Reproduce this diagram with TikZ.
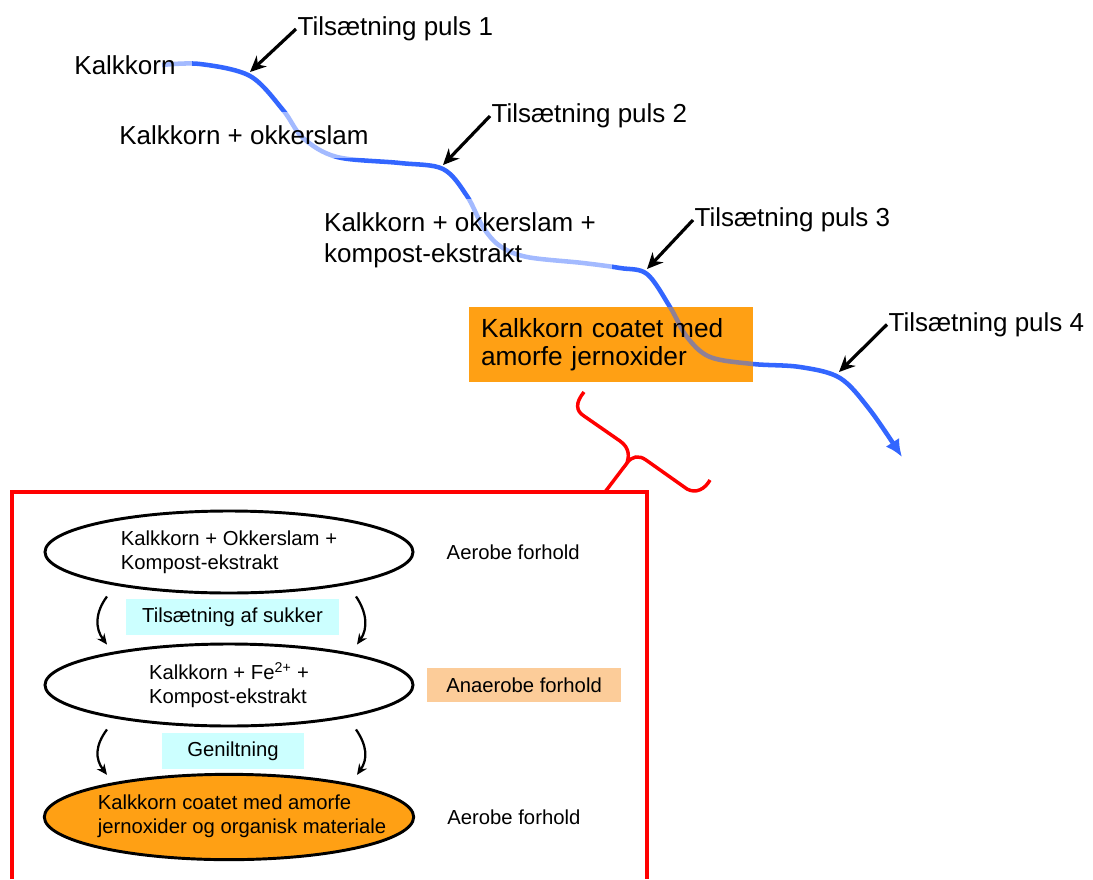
\documentclass[tikz,border=0pt]{standalone}
\usepackage{fontspec}
\setmainfont{Liberation Sans}
\usepackage{tikz}
\usetikzlibrary{arrows.meta, shapes.geometric, positioning, backgrounds, calc}
\definecolor{flowblue}{RGB}{51, 102, 255}
\definecolor{coatorange}{RGB}{255, 160, 20}
\definecolor{sugarcyan}{RGB}{204, 255, 255}
\definecolor{anaeropeach}{RGB}{252, 204, 153}
\definecolor{framered}{RGB}{255, 0, 0}

\begin{document}
\begin{tikzpicture}[x=0.75pt, y=-0.75pt,
    flow/.style={line width=3.4pt, flowblue, -{Latex[length=13pt, width=12pt]}},
    stage/.style={font=\fontsize{19.5}{23.3}\selectfont, align=left, fill=white, fill opacity=0.55, text opacity=1, inner xsep=12pt, inner ysep=10pt},
    puls/.style={font=\fontsize{19.5}{23.3}\selectfont, inner sep=1pt, anchor=west},
    pulsarrow/.style={line width=2.4pt, -{Stealth[length=12pt, width=11pt]}},
    coatbox/.style={font=\fontsize{19.7}{21}\selectfont, align=left, fill=coatorange, fill opacity=0.45, text opacity=1, text width=195pt, inner xsep=9pt, minimum height=56pt},
    state/.style={ellipse, draw, line width=2.2pt, minimum width=276pt, minimum height=61.5pt, inner sep=0pt, align=left, font=\fontsize{15.2}{18}\selectfont},
    tag/.style={font=\fontsize{15.2}{18}\selectfont, inner sep=0pt},
    action/.style={fill=sugarcyan, minimum height=27pt, font=\fontsize{15.2}{18}\selectfont},
    sidearrow/.style={line width=1.7pt, -{Stealth[length=8pt, width=7pt]}},
    frame/.style={framered, line width=2.6pt}
  ]
    \useasboundingbox (0,0) rectangle (1093,879);

    \coordinate (s0) at (162,65);
    \coordinate (p1) at (250,72);
    \coordinate (p2) at (443,165);
    \coordinate (p3) at (647,269);
    \coordinate (p4) at (839,372);

    \draw[flow] plot[smooth, tension=0.55] coordinates {(s0) (200,64) (250,76) (283,110) (303,138) (337,157) (400,163) (443,169) (467,196) (483,227) (500,246) (527,257) (583,263) (620,268) (647,274) (670,307) (687,337) (710,357) (753,364) (800,367) (840,378) (870,410) (902,457)};

    \node[stage] (kalk) at (125,65) {Kalkkorn};
    \node[stage] (okker) at (244,135) {Kalkkorn + okkerslam};
    \node[stage] (kompost) at (460,240) {Kalkkorn + okkerslam +\\kompost-ekstrakt};
    \node[coatbox] (coat) at (611,344.5) {Kalkkorn coatet med\\amorfe jernoxider};
    \begin{scope}[on background layer]
      \fill[coatorange] (coat.south west) rectangle (coat.north east);
    \end{scope}

    \foreach \n/\x/\y in {1/296/29, 2/490/116, 3/693/220, 4/887/324.5}{
      \node[puls] (puls\n) at (\x,\y) {Tilsætning puls \n};
      \draw[pulsarrow] (puls\n.west) -- (p\n);
    }

    \coordinate (cusp) at (627,463);
    \coordinate (frametip) at (605,492);
    \draw[frame] (12,879) |- (647,492) -- (647,879);
    \draw[frame] (584,392) .. controls (575,403) and (576,411) .. (584,416) -- (620,441)
      .. controls (630,448) and (629,457) .. (cusp)
      .. controls (632,456) and (639,455) .. (646,460) -- (687,489)
      .. controls (696,494) and (705,489) .. (710,480);
    \draw[frame] (cusp) -- (frametip);

    \node[state] (e1) at (229,552) {Kalkkorn + Okkerslam +\\Kompost-ekstrakt};
    \node[action, minimum width=160pt] (sukker) at (232.5,617) {Tilsætning af sukker};
    \node[state] (e2) at (229,685) {Kalkkorn + Fe\textsuperscript{2+} +\\Kompost-ekstrakt};
    \node[action, minimum width=106.5pt] (genilt) at (233,751) {Geniltning};
    \node[state, fill=coatorange, minimum width=277pt, minimum height=64pt] (e3) at (229,817) {};
    \node[tag, align=left] (e3text) at ($(e3)+(13,-1)$) {Kalkkorn coatet med amorfe\\jernoxider og organisk materiale};

    \node[tag, right=24pt of e1] (aerob1) {Aerobe forhold};
    \node[tag, right=9pt of e2, fill=anaeropeach, minimum width=146pt, minimum height=26pt] (anaerob) {Anaerobe forhold};
    \node[tag, right=24pt of e3] (aerob2) {Aerobe forhold};

    \foreach \up/\dn in {e1/e2, e2/e3}{
      \draw[sidearrow] ($(\up.south)+(-122,2)$) .. controls +(-12,16) and +(-12,-16) .. ($(\dn.north)+(-122,2)$);
      \draw[sidearrow] ($(\up.south)+(127,2)$) .. controls +(11,16) and +(11,-16) .. ($(\dn.north)+(128,2)$);
    }
  \end{tikzpicture}
\end{document}
